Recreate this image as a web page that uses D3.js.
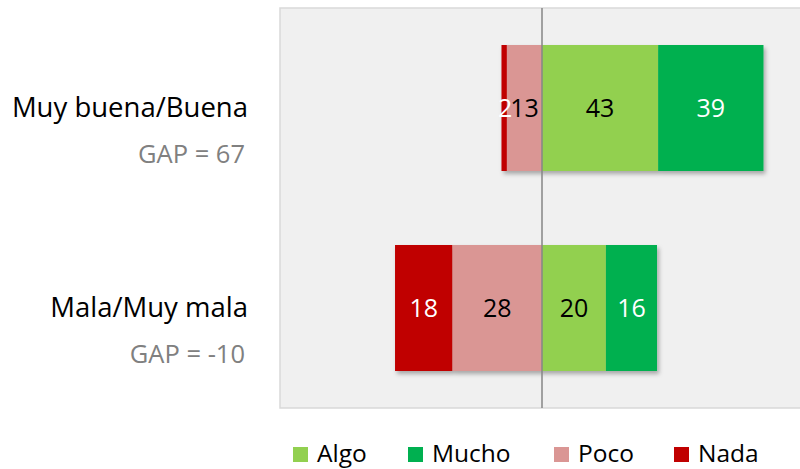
<!DOCTYPE html>
<html><head><meta charset="utf-8">
<script src="https://cdn.jsdelivr.net/npm/d3@7"></script>
<style>html,body{margin:0;padding:0;background:#fff;}svg{display:block;}</style>
</head><body>
<svg id="chart" width="800" height="469"></svg>
<script>
const categories = ["Muy buena/Buena", "Mala/Muy mala"];
const gapLabels = ["GAP = 67", "GAP = -10"];
const nada  = [2, 18];
const poco  = [13, 28];
const algo  = [43, 20];
const mucho = [39, 16];
const seriesNames = ["Algo", "Mucho", "Poco", "Nada"];
const colors = {Algo:"#92d050", Mucho:"#00b050", Poco:"#da9694", Nada:"#c00000"};
const labelColors = {Algo:"#000", Mucho:"#fff", Poco:"#000", Nada:"#fff"};

const svg = d3.select("#chart");
const font = "'Open Sans', sans-serif";
const plot = {left:280, right:804, top:8, bottom:408};

const defs = svg.append("defs");
const f = defs.append("filter").attr("id","shadow").attr("x","-10%").attr("y","-10%").attr("width","130%").attr("height","130%");
f.append("feDropShadow").attr("dx",2).attr("dy",3).attr("stdDeviation",2).attr("flood-color","#000").attr("flood-opacity",0.3);

svg.append("rect").attr("x",plot.left).attr("y",plot.top)
  .attr("width",plot.right-plot.left).attr("height",plot.bottom-plot.top)
  .attr("fill","#f0f0f0").attr("stroke","#d9d9d9").attr("stroke-width",1.5);

const x = d3.scaleLinear().domain([-1,1]).range([plot.left, plot.right]);
const y = d3.scaleBand().domain(categories).range([plot.top, plot.bottom]).paddingInner(0.37).paddingOuter(0.185);

categories.forEach((c,i)=>{
  const total = nada[i]+poco[i]+algo[i]+mucho[i];
  const segs = [];
  let start = -(nada[i]+poco[i])/total;
  [["Nada",nada[i]],["Poco",poco[i]],["Algo",algo[i]],["Mucho",mucho[i]]].forEach(([k,v])=>{
    segs.push({key:k, v, x0:start, x1:start+v/total});
    start += v/total;
  });
  const g = svg.append("g").attr("filter","url(#shadow)");
  g.selectAll("rect").data(segs).enter().append("rect")
    .attr("x",d=>x(d.x0)).attr("width",d=>x(d.x1)-x(d.x0))
    .attr("y",y(c)).attr("height",y.bandwidth())
    .attr("fill",d=>colors[d.key]);
  const lg = svg.append("g");
  lg.selectAll("text").data(segs).enter().append("text")
    .attr("x",d=>(x(d.x0)+x(d.x1))/2 + (d.v<5?1:0))
    .attr("y",y(c)+y.bandwidth()/2+9)
    .attr("text-anchor","middle")
    .attr("font-family",font).attr("font-size",25)
    .attr("fill",d=>labelColors[d.key])
    .text(d=>d.v);
  svg.append("text").attr("x",248).attr("y",y(c)+y.bandwidth()/2+9)
    .attr("text-anchor","end").attr("font-family",font).attr("font-size",27.5)
    .attr("fill","#000").text(c);
  svg.append("text").attr("x",245).attr("y",y(c)+y.bandwidth()/2+55)
    .attr("text-anchor","end").attr("font-family",font).attr("font-size",25.5)
    .attr("fill","#808080").text(gapLabels[i]);
});

svg.append("line").attr("x1",x(0)).attr("x2",x(0)).attr("y1",plot.top).attr("y2",plot.bottom)
  .attr("stroke","#868686").attr("stroke-width",1.5);

const legendX = [293, 408, 554, 674];
const lg = svg.append("g");
seriesNames.forEach((s,i)=>{
  lg.append("rect").attr("x",legendX[i]).attr("y",447).attr("width",15).attr("height",15).attr("fill",colors[s]);
  lg.append("text").attr("x",legendX[i]+24).attr("y",462).attr("font-family",font).attr("font-size",24.5)
    .attr("fill","#000").text(s);
});
</script>
</body></html>
